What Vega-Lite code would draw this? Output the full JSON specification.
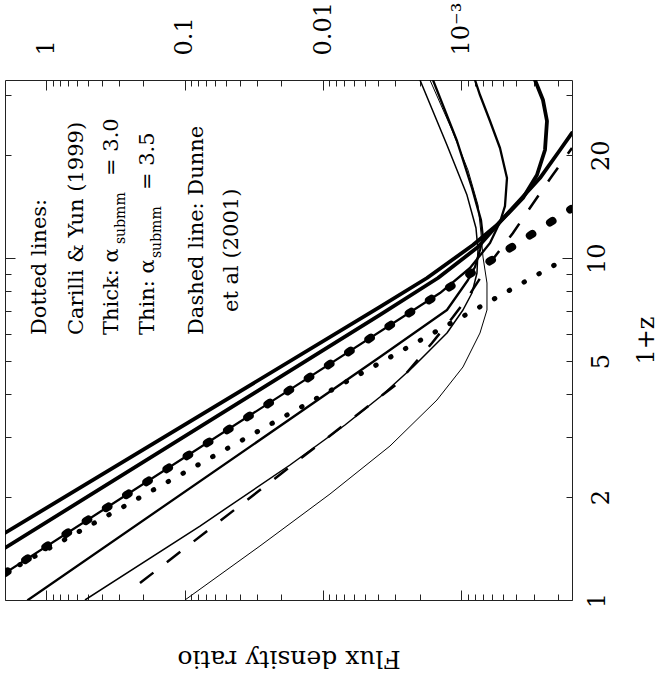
{
  "$schema": "https://vega.github.io/schema/vega-lite/v6.json",
  "width": 567,
  "height": 520,
  "autosize": {"type": "none"},
  "padding": {"left": 5, "top": 80, "right": 87, "bottom": 78},
  "background": "white",
  "config": {
    "view": {"stroke": "#222", "strokeWidth": 1},
    "font": "DejaVu Serif",
    "axis": {"labelFont": "DejaVu Serif", "titleFont": "DejaVu Serif", "labelColor": "#000", "titleColor": "#000", "tickColor": "#222", "titleFontWeight": "normal"}
  },
  "datasets": {
    "curves": [
      {"c": "thickA", "F": 1.995, "Z": 1.571},
      {"c": "thickA", "F": 0.003878, "Z": 7.199},
      {"c": "thickA", "F": 0.001773, "Z": 8.752},
      {"c": "thickA", "F": 0.0008241, "Z": 10.93},
      {"c": "thickA", "F": 0.0005527, "Z": 12.51},
      {"c": "thickA", "F": 0.0003769, "Z": 14.80},
      {"c": "thickA", "F": 0.0002702, "Z": 17.16},
      {"c": "thickA", "F": 0.0001936, "Z": 20.73},
      {"c": "thickA", "F": 0.0001585, "Z": 23.25},
      {"c": "thickB", "F": 1.995, "Z": 1.420},
      {"c": "thickB", "F": 0.003878, "Z": 6.822},
      {"c": "thickB", "F": 0.001476, "Z": 8.752},
      {"c": "thickB", "F": 0.0007584, "Z": 10.78},
      {"c": "thickB", "F": 0.0005257, "Z": 12.76},
      {"c": "thickB", "F": 0.0003585, "Z": 15.00},
      {"c": "thickB", "F": 0.000284, "Z": 17.52},
      {"c": "thickB", "F": 0.0002485, "Z": 20.73},
      {"c": "thickB", "F": 0.0002404, "Z": 25.20},
      {"c": "thickB", "F": 0.0002569, "Z": 29.02},
      {"c": "thickB", "F": 0.0002937, "Z": 33.22},
      {"c": "lineC", "F": 1.995, "Z": 1.199},
      {"c": "lineC", "F": 0.001428, "Z": 7.910},
      {"c": "lineC", "F": 0.0008664, "Z": 9.362},
      {"c": "lineC", "F": 0.0006209, "Z": 11.08},
      {"c": "lineC", "F": 0.0005257, "Z": 12.76},
      {"c": "lineC", "F": 0.0004838, "Z": 14.21},
      {"c": "lineC", "F": 0.0004679, "Z": 17.16},
      {"c": "lineC", "F": 0.0005257, "Z": 21.01},
      {"c": "lineC", "F": 0.0006209, "Z": 25.20},
      {"c": "lineC", "F": 0.0007335, "Z": 30.02},
      {"c": "lineC", "F": 0.0007972, "Z": 33.22},
      {"c": "medium", "F": 1.361, "Z": 1.0},
      {"c": "medium", "F": 0.003878, "Z": 5.139},
      {"c": "medium", "F": 0.001271, "Z": 7.055},
      {"c": "medium", "F": 0.0008958, "Z": 8.636},
      {"c": "medium", "F": 0.0007972, "Z": 9.425},
      {"c": "medium", "F": 0.0007335, "Z": 10.57},
      {"c": "medium", "F": 0.0006977, "Z": 11.46},
      {"c": "medium", "F": 0.0007214, "Z": 12.93},
      {"c": "medium", "F": 0.000838, "Z": 16.05},
      {"c": "medium", "F": 0.001075, "Z": 22.02},
      {"c": "medium", "F": 0.001604, "Z": 33.22},
      {"c": "thin", "F": 0.5266, "Z": 1.0},
      {"c": "thin", "F": 0.07762, "Z": 1.646},
      {"c": "thin", "F": 0.01735, "Z": 2.483},
      {"c": "thin", "F": 0.006943, "Z": 3.251},
      {"c": "thin", "F": 0.003878, "Z": 3.926},
      {"c": "thin", "F": 0.002238, "Z": 4.806},
      {"c": "thin", "F": 0.001271, "Z": 6.041},
      {"c": "thin", "F": 0.0009736, "Z": 7.055},
      {"c": "thin", "F": 0.000838, "Z": 7.910},
      {"c": "thin", "F": 0.0007711, "Z": 9.052},
      {"c": "thin", "F": 0.0007584, "Z": 10.57},
      {"c": "thin", "F": 0.0007841, "Z": 12.26},
      {"c": "thin", "F": 0.0009108, "Z": 15.30},
      {"c": "thin", "F": 0.001271, "Z": 21.44},
      {"c": "thin", "F": 0.001992, "Z": 33.22},
      {"c": "verythin", "F": 0.09966, "Z": 1.0},
      {"c": "verythin", "F": 0.02859, "Z": 1.439},
      {"c": "verythin", "F": 0.008913, "Z": 2.042},
      {"c": "verythin", "F": 0.003282, "Z": 2.822},
      {"c": "verythin", "F": 0.001501, "Z": 3.847},
      {"c": "verythin", "F": 0.0009736, "Z": 4.806},
      {"c": "verythin", "F": 0.0007335, "Z": 6.041},
      {"c": "verythin", "F": 0.0006528, "Z": 7.055},
      {"c": "verythin", "F": 0.0006528, "Z": 8.461},
      {"c": "verythin", "F": 0.0006977, "Z": 10.08},
      {"c": "verythin", "F": 0.0007214, "Z": 11.85},
      {"c": "verythin", "F": 0.0007584, "Z": 14.31},
      {"c": "verythin", "F": 0.0008958, "Z": 18.11},
      {"c": "verythin", "F": 0.001169, "Z": 23.72},
      {"c": "verythin", "F": 0.001687, "Z": 33.22},
      {"c": "bigdots", "F": 1.995, "Z": 1.199},
      {"c": "bigdots", "F": 0.0001612, "Z": 13.93},
      {"c": "smalldots", "F": 1.995, "Z": 1.199},
      {"c": "smalldots", "F": 0.0001723, "Z": 10.01},
      {"c": "dashed", "F": 0.2108, "Z": 1.121},
      {"c": "dashed", "F": 0.002873, "Z": 4.313},
      {"c": "dashed", "F": 0.001631, "Z": 5.648},
      {"c": "dashed", "F": 0.00115, "Z": 6.729},
      {"c": "dashed", "F": 0.0008958, "Z": 7.700},
      {"c": "dashed", "F": 0.0006209, "Z": 9.683},
      {"c": "dashed", "F": 0.0004234, "Z": 11.85},
      {"c": "dashed", "F": 0.0003087, "Z": 14.31},
      {"c": "dashed", "F": 0.0002212, "Z": 17.40},
      {"c": "dashed", "F": 0.0001585, "Z": 21.01}
    ],
    "notes": [
      {"t": "Dotted lines:", "F": 1.114, "Z": 5.962},
      {"t": "Carilli & Yun (1999)", "F": 0.6018, "Z": 5.962},
      {"t": "Thick: α", "F": 0.336, "Z": 5.962},
      {"t": "Thin: α", "F": 0.1845, "Z": 5.962},
      {"t": "Dashed line: Dunne", "F": 0.08157, "Z": 5.962},
      {"t": "et al (2001)", "F": 0.04557, "Z": 6.962},
      {"t": "= 3.0", "F": 0.336, "Z": 17.4},
      {"t": "= 3.5", "F": 0.1845, "Z": 15.83}
    ],
    "subs": [
      {"t": "submm", "F": 0.2892, "Z": 11.0},
      {"t": "submm", "F": 0.1588, "Z": 10.01}
    ]
  },
  "resolve": {"axis": {"x": "independent", "y": "independent"}},
  "layer": [
    {
      "data": {"name": "curves"},
      "transform": [{"filter": "datum.c === 'thickA' || datum.c === 'thickB'"}],
      "mark": {"type": "line", "color": "#000", "clip": true, "strokeWidth": 3.8, "strokeJoin": "round", "strokeCap": "round"},
      "encoding": {
        "x": {
          "field": "F", "type": "quantitative",
          "scale": {"type": "log", "domain": [0.0001585, 1.995], "reverse": true, "nice": false},
          "axis": {
            "orient": "top", "title": null,
            "values": [0.0002,0.0003,0.0004,0.0005,0.0006,0.0007,0.0008,0.0009,0.001,0.002,0.003,0.004,0.005,0.006,0.007,0.008,0.009,0.01,0.02,0.03,0.04,0.05,0.06,0.07,0.08,0.09,0.1,0.2,0.3,0.4,0.5,0.6,0.7,0.8,0.9,1],
            "labelExpr": "datum.value===1?'1':datum.value===0.1?'0.1':datum.value===0.01?'0.01':datum.value===0.001?'10⁻³':''",
            "labelAngle": 270, "labelAlign": "left", "labelBaseline": "middle",
            "labelFontSize": 24, "labelPadding": 35, "labelOverlap": false, "labelFlush": false,
            "domain": false, "grid": false,
            "tickSize": {"condition": {"test": "datum.value===1||datum.value===0.1||datum.value===0.01||datum.value===0.001", "value": -10}, "value": -6}
          }
        },
        "y": {
          "field": "Z", "type": "quantitative",
          "scale": {"type": "log", "domain": [1, 33.22], "nice": false},
          "axis": {
            "orient": "right", "title": "1+z",
            "values": [1,2,3,4,5,6,7,8,9,10,20,30],
            "labelExpr": "indexof([1,2,5,10,20], datum.value) >= 0 ? format(datum.value, 'd') : ''",
            "labelAngle": 270, "labelAlign": "center", "labelBaseline": "middle",
            "labelFontSize": 24, "labelPadding": 35, "labelOverlap": false, "labelFlush": false,
            "domain": false, "grid": false,
            "tickSize": {"condition": {"test": "datum.value===10||datum.value===1", "value": -10}, "value": -6},
            "titleAngle": 270, "titleFontSize": 24, "titleBaseline": "middle", "titlePadding": 33
          }
        },
        "detail": {"field": "c"},
        "order": {"field": "Z", "type": "quantitative"}
      }
    },
    {
      "data": {"name": "curves"},
      "transform": [{"filter": "datum.c === 'dashed'"}],
      "mark": {"type": "line", "color": "#000", "clip": true, "strokeWidth": 2.5, "strokeDash": [17, 17]},
      "encoding": {
        "x": {
          "field": "F", "type": "quantitative",
          "scale": {"type": "log", "domain": [0.0001585, 1.995], "reverse": true, "nice": false},
          "axis": {
            "orient": "bottom", "title": "Flux density ratio", "labels": false,
            "values": [0.0002,0.0003,0.0004,0.0005,0.0006,0.0007,0.0008,0.0009,0.001,0.002,0.003,0.004,0.005,0.006,0.007,0.008,0.009,0.01,0.02,0.03,0.04,0.05,0.06,0.07,0.08,0.09,0.1,0.2,0.3,0.4,0.5,0.6,0.7,0.8,0.9,1],
            "domain": false, "grid": false,
            "tickSize": {"condition": {"test": "datum.value===1||datum.value===0.1||datum.value===0.01||datum.value===0.001", "value": -10}, "value": -6},
            "titleAngle": 180, "titleFontSize": 25, "titleBaseline": "middle", "titlePadding": 58
          }
        },
        "y": {
          "field": "Z", "type": "quantitative",
          "scale": {"type": "log", "domain": [1, 33.22], "nice": false},
          "axis": {
            "orient": "left", "title": null, "labels": false,
            "values": [1,2,3,4,5,6,7,8,9,10,20,30],
            "domain": false, "grid": false,
            "tickSize": {"condition": {"test": "datum.value===10||datum.value===1", "value": -10}, "value": -6}
          }
        },
        "order": {"field": "Z", "type": "quantitative"}
      }
    },
    {
      "data": {"name": "curves"},
      "transform": [{"filter": "datum.c === 'lineC' || datum.c === 'medium'"}],
      "mark": {"type": "line", "color": "#000", "clip": true, "strokeWidth": 2.3, "strokeJoin": "round", "strokeCap": "round"},
      "encoding": {
        "x": {"field": "F", "type": "quantitative", "scale": {"type": "log", "domain": [0.0001585, 1.995], "reverse": true, "nice": false}, "axis": null},
        "y": {"field": "Z", "type": "quantitative", "scale": {"type": "log", "domain": [1, 33.22], "nice": false}, "axis": null},
        "detail": {"field": "c"},
        "order": {"field": "Z", "type": "quantitative"}
      }
    },
    {
      "data": {"name": "curves"},
      "transform": [{"filter": "datum.c === 'thin'"}],
      "mark": {"type": "line", "color": "#000", "clip": true, "strokeWidth": 1.5, "strokeJoin": "round"},
      "encoding": {
        "x": {"field": "F", "type": "quantitative", "scale": {"type": "log", "domain": [0.0001585, 1.995], "reverse": true, "nice": false}, "axis": null},
        "y": {"field": "Z", "type": "quantitative", "scale": {"type": "log", "domain": [1, 33.22], "nice": false}, "axis": null},
        "order": {"field": "Z", "type": "quantitative"}
      }
    },
    {
      "data": {"name": "curves"},
      "transform": [{"filter": "datum.c === 'verythin'"}],
      "mark": {"type": "line", "color": "#000", "clip": true, "strokeWidth": 1, "strokeJoin": "round"},
      "encoding": {
        "x": {"field": "F", "type": "quantitative", "scale": {"type": "log", "domain": [0.0001585, 1.995], "reverse": true, "nice": false}, "axis": null},
        "y": {"field": "Z", "type": "quantitative", "scale": {"type": "log", "domain": [1, 33.22], "nice": false}, "axis": null},
        "order": {"field": "Z", "type": "quantitative"}
      }
    },
    {
      "data": {"name": "curves"},
      "transform": [{"filter": "datum.c === 'bigdots'"}],
      "mark": {"type": "line", "color": "#000", "clip": true, "strokeWidth": 8, "strokeCap": "round", "strokeDash": [3, 21]},
      "encoding": {
        "x": {"field": "F", "type": "quantitative", "scale": {"type": "log", "domain": [0.0001585, 1.995], "reverse": true, "nice": false}, "axis": null},
        "y": {"field": "Z", "type": "quantitative", "scale": {"type": "log", "domain": [1, 33.22], "nice": false}, "axis": null},
        "order": {"field": "Z", "type": "quantitative"}
      }
    },
    {
      "data": {"name": "curves"},
      "transform": [{"filter": "datum.c === 'smalldots'"}],
      "mark": {"type": "line", "color": "#000", "clip": true, "strokeWidth": 5, "strokeCap": "round", "strokeDash": [0.5, 16.5]},
      "encoding": {
        "x": {"field": "F", "type": "quantitative", "scale": {"type": "log", "domain": [0.0001585, 1.995], "reverse": true, "nice": false}, "axis": null},
        "y": {"field": "Z", "type": "quantitative", "scale": {"type": "log", "domain": [1, 33.22], "nice": false}, "axis": null},
        "order": {"field": "Z", "type": "quantitative"}
      }
    },
    {
      "data": {"name": "notes"},
      "mark": {"type": "text", "angle": 270, "align": "left", "baseline": "middle", "font": "DejaVu Serif", "fontSize": 21, "color": "#000"},
      "encoding": {
        "x": {"field": "F", "type": "quantitative", "scale": {"type": "log", "domain": [0.0001585, 1.995], "reverse": true, "nice": false}, "axis": null},
        "y": {"field": "Z", "type": "quantitative", "scale": {"type": "log", "domain": [1, 33.22], "nice": false}, "axis": null},
        "text": {"field": "t"}
      }
    },
    {
      "data": {"name": "subs"},
      "mark": {"type": "text", "angle": 270, "align": "left", "baseline": "middle", "font": "DejaVu Serif", "fontSize": 14, "color": "#000"},
      "encoding": {
        "x": {"field": "F", "type": "quantitative", "scale": {"type": "log", "domain": [0.0001585, 1.995], "reverse": true, "nice": false}, "axis": null},
        "y": {"field": "Z", "type": "quantitative", "scale": {"type": "log", "domain": [1, 33.22], "nice": false}, "axis": null},
        "text": {"field": "t"}
      }
    }
  ]
}
